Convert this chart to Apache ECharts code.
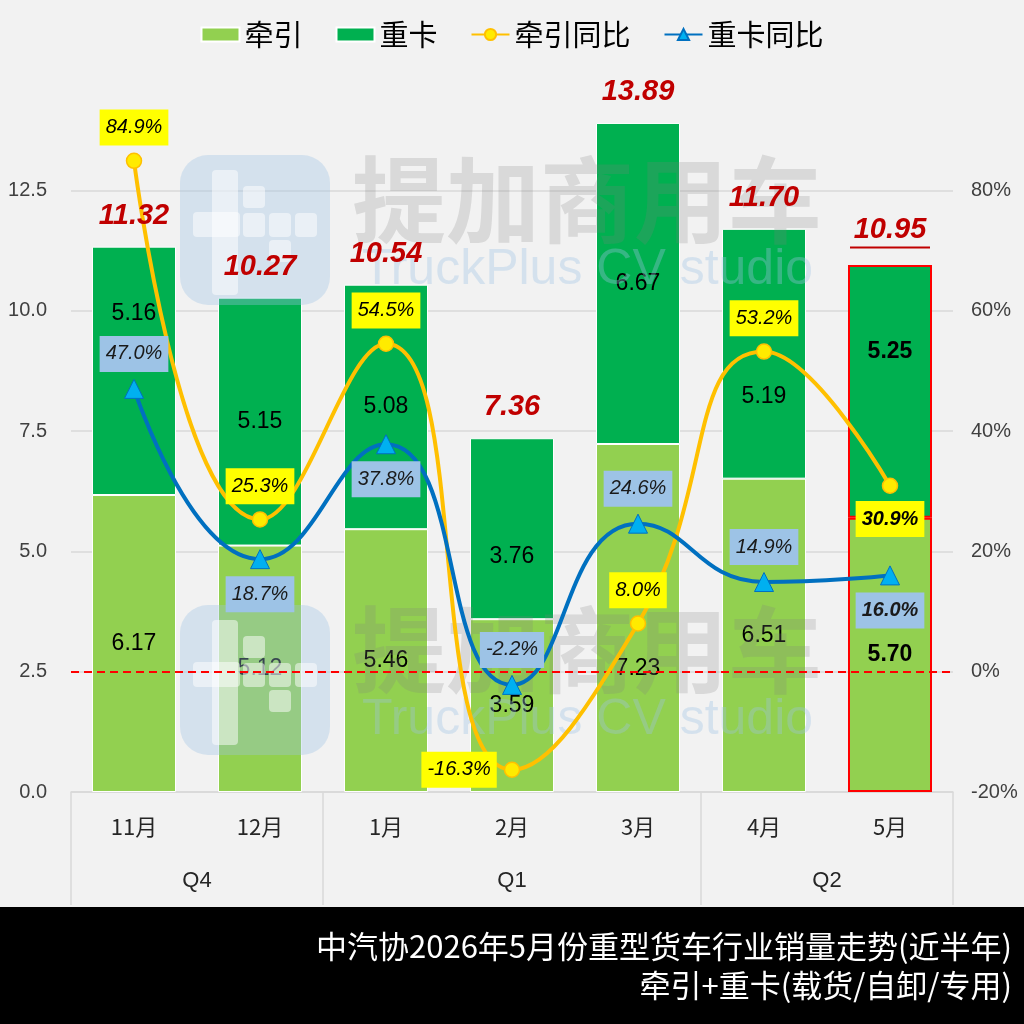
<!DOCTYPE html>
<html>
<head>
<meta charset="utf-8">
<title>中汽协2026年5月份重型货车行业销量走势</title>
<script src="https://cdn.jsdelivr.net/npm/echarts@6/dist/echarts.min.js"></script>
<style>
html,body{margin:0;padding:0;background:#F2F2F2;}
#main{width:1024px;height:1024px;}
</style>
</head>
<body>
<div id="main"></div>
<script>
// 数据
var months = ['11月', '12月', '1月', '2月', '3月', '4月', '5月'];
var quarters = ['Q4', 'Q1', 'Q2'];
var quarterSpans = [2, 3, 2];
var tractor = [6.17, 5.12, 5.46, 3.59, 7.23, 6.51, 5.70];
var heavy = [5.16, 5.15, 5.08, 3.76, 6.67, 5.19, 5.25];
var totals = [11.32, 10.27, 10.54, 7.36, 13.89, 11.70, 10.95];
var tractorYoy = [84.9, 25.3, 54.5, -16.3, 8.0, 53.2, 30.9];
var heavyYoy = [47.0, 18.7, 37.8, -2.2, 24.6, 14.9, 16.0];

// 样式（标签位置手动微调）
var hi = 6; // 最新月份高亮
var tractorShift = [0, 0, 0, 0, 51, 0, 0];
var heavyShift = [-57, 0, 0, 28, 0, 43, -40];
var tractorYoyPos = ['top', 'top', 'top', 'left', 'top', 'top', 'bottom'];
var heavyYoyPos = ['top', 'bottom', 'bottom', 'top', 'top', 'top', 'bottom'];

var numFont = "'Liberation Sans', 'Noto Sans CJK SC', sans-serif";
var cjkFont = "'Noto Sans CJK SC', sans-serif";

// 季度分隔
var qBounds = [0], qCenters = [];
quarterSpans.forEach(function (s, i) {
  var start = qBounds[i];
  qBounds.push(start + s);
  qCenters.push(start + s / 2);
});

function barItems(arr, shift) {
  return arr.map(function (v, i) {
    var it = { value: v, label: { offset: [0, shift[i]] } };
    if (i === hi) {
      it.itemStyle = { borderColor: '#FF0000', borderWidth: 2 };
      it.label.fontWeight = 'bold';
    }
    return it;
  });
}

function yoyItems(arr, pos) {
  return arr.map(function (v, i) {
    return { value: v, label: { position: pos[i], fontWeight: i === hi ? 'bold' : 'normal' } };
  });
}

// 水印
function watermark(dy) {
  var w = [];
  w.push({ type: 'rect', z: 3, silent: true, shape: { x: 180, y: 155 + dy, width: 150, height: 150, r: 28 }, style: { fill: '#9DC3E6', opacity: 0.35 } });
  var whites = [[212, 170, 26, 125], [193, 212, 47, 25], [243, 186, 22, 22], [243, 213, 22, 24], [269, 213, 22, 24], [295, 213, 22, 24], [269, 240, 22, 22]];
  whites.forEach(function (r) {
    w.push({ type: 'rect', z: 3, silent: true, shape: { x: r[0], y: r[1] + dy, width: r[2], height: r[3], r: 4 }, style: { fill: '#FFFFFF', opacity: 0.5 } });
  });
  w.push({ type: 'text', z: 3, silent: true, style: { x: 352, y: 200 + dy, text: '提加商用车', font: 'bold 94px ' + cjkFont, fill: '#7F7F7F', opacity: 0.22, textVerticalAlign: 'middle' } });
  w.push({ type: 'text', z: 3, silent: true, style: { x: 362, y: 270 + dy, text: 'TruckPlus CV studio', font: '50px ' + numFont, fill: '#9DC3E6', opacity: 0.35, textVerticalAlign: 'middle' } });
  return w;
}

function fmt2(p) { return p.value.toFixed(2); }
function fmtPct(p) { return p.value.toFixed(1) + '%'; }

var chart = echarts.init(document.getElementById('main'));
chart.setOption({
  backgroundColor: '#F2F2F2',
  textStyle: { fontFamily: numFont },
  legend: {
    data: [{ name: '牵引', icon: 'rect' }, { name: '重卡', icon: 'rect' }, '牵引同比', '重卡同比'],
    top: 15,
    left: 'center',
    itemWidth: 38,
    itemHeight: 14,
    itemGap: 33,
    textStyle: { fontSize: 29, color: '#000', fontFamily: cjkFont }
  },
  grid: { left: 71, right: 71, top: 70, bottom: 232 },
  xAxis: [{
    type: 'category',
    data: months,
    axisLine: { onZero: false, lineStyle: { color: '#D9D9D9', width: 1.5 } },
    axisTick: { show: false },
    axisLabel: { fontSize: 22, color: '#262626', margin: 24, fontFamily: cjkFont }
  }, {
    type: 'value',
    position: 'bottom',
    offset: 0,
    min: 0,
    max: months.length,
    axisLine: { show: false, onZero: false },
    splitLine: { show: false },
    axisTick: { show: true, inside: false, customValues: qBounds, length: 113, lineStyle: { color: '#D9D9D9', width: 1.5 } },
    axisLabel: {
      customValues: qCenters,
      margin: 78,
      fontSize: 22,
      color: '#262626',
      formatter: function (v) {
        var k = qCenters.indexOf(v);
        return k >= 0 ? quarters[k] : '';
      }
    }
  }],
  yAxis: [{
    type: 'value',
    min: 0,
    max: 15,
    interval: 2.5,
    axisLine: { show: false },
    axisTick: { show: false },
    splitLine: { show: true, showMaxLine: false, lineStyle: { color: '#D9D9D9', width: 1.5 } },
    axisLabel: { showMaxLabel: false, fontSize: 20, color: '#404040', margin: 24, formatter: function (v) { return v.toFixed(1); } }
  }, {
    type: 'value',
    min: -20,
    max: 100,
    interval: 20,
    axisLine: { show: false },
    axisTick: { show: false },
    splitLine: { show: false },
    axisLabel: { showMaxLabel: false, fontSize: 20, color: '#404040', margin: 18, formatter: function (v) { return v + '%'; } }
  }],
  series: [{
    name: '牵引',
    type: 'bar',
    stack: 'total',
    barWidth: 84,
    z: 2,
    itemStyle: { color: '#92D050', borderColor: '#FFFFFF', borderWidth: 1 },
    label: { show: true, position: 'inside', fontSize: 23, color: '#000', formatter: fmt2 },
    data: barItems(tractor, tractorShift)
  }, {
    name: '重卡',
    type: 'bar',
    stack: 'total',
    barWidth: 84,
    z: 2,
    itemStyle: { color: '#00B050', borderColor: '#FFFFFF', borderWidth: 1 },
    label: { show: true, position: 'inside', fontSize: 23, color: '#000', formatter: fmt2 },
    data: barItems(heavy, heavyShift)
  }, {
    name: '合计',
    type: 'scatter',
    symbolSize: 1,
    silent: true,
    z: 6,
    itemStyle: { color: 'rgba(0,0,0,0)', opacity: 1 },
    label: {
      show: true,
      position: 'top',
      distance: 16,
      opacity: 1,
      fontSize: 29,
      fontWeight: 'bold',
      fontStyle: 'italic',
      color: '#C00000',
      formatter: function (p) {
        var t = totals[p.dataIndex].toFixed(2);
        return p.dataIndex === hi ? '{v|' + t + '}\n{u|}' : t;
      },
      rich: {
        v: { fontSize: 29, fontWeight: 'bold', fontStyle: 'italic', color: '#C00000', lineHeight: 32 },
        u: { width: 80, height: 2, backgroundColor: '#C00000' }
      }
    },
    data: totals
  }, {
    name: '牵引同比',
    type: 'line',
    yAxisIndex: 1,
    smooth: true,
    z: 5,
    symbol: 'circle',
    symbolSize: 15,
    lineStyle: { color: '#FFC000', width: 4 },
    itemStyle: { color: '#FFEB00', borderColor: '#FFC000', borderWidth: 1.5 },
    label: {
      show: true,
      distance: 7,
      fontSize: 20,
      fontStyle: 'italic',
      color: '#000',
      backgroundColor: '#FFFF00',
      padding: [8, 6],
      formatter: fmtPct
    },
    markLine: {
      silent: true,
      symbol: 'none',
      label: { show: false },
      lineStyle: { color: '#FF0000', type: [8, 5], width: 2 },
      data: [{ yAxis: 0 }]
    },
    data: yoyItems(tractorYoy, tractorYoyPos)
  }, {
    name: '重卡同比',
    type: 'line',
    yAxisIndex: 1,
    smooth: true,
    z: 5,
    symbol: 'triangle',
    symbolSize: 19,
    lineStyle: { color: '#0070C0', width: 4 },
    itemStyle: { color: '#00B0F0', borderColor: '#0070C0', borderWidth: 1 },
    label: {
      show: true,
      distance: 7,
      fontSize: 20,
      fontStyle: 'italic',
      color: '#1A1A1A',
      backgroundColor: '#9DC3E6',
      padding: [8, 6],
      formatter: fmtPct
    },
    data: yoyItems(heavyYoy, heavyYoyPos)
  }],
  graphic: watermark(0).concat(watermark(450)).concat([
    { type: 'rect', z: 10, silent: true, shape: { x: 0, y: 907, width: 1024, height: 117 }, style: { fill: '#000' } },
    { type: 'text', z: 11, silent: true, style: { x: 1012, y: 946, text: '中汽协2026年5月份重型货车行业销量走势(近半年)', font: '31px ' + cjkFont, fill: '#FFFFFF', textAlign: 'right', textVerticalAlign: 'middle' } },
    { type: 'text', z: 11, silent: true, style: { x: 1012, y: 985, text: '牵引+重卡(载货/自卸/专用)', font: '31px ' + cjkFont, fill: '#FFFFFF', textAlign: 'right', textVerticalAlign: 'middle' } }
  ])
});
</script>
</body>
</html>
